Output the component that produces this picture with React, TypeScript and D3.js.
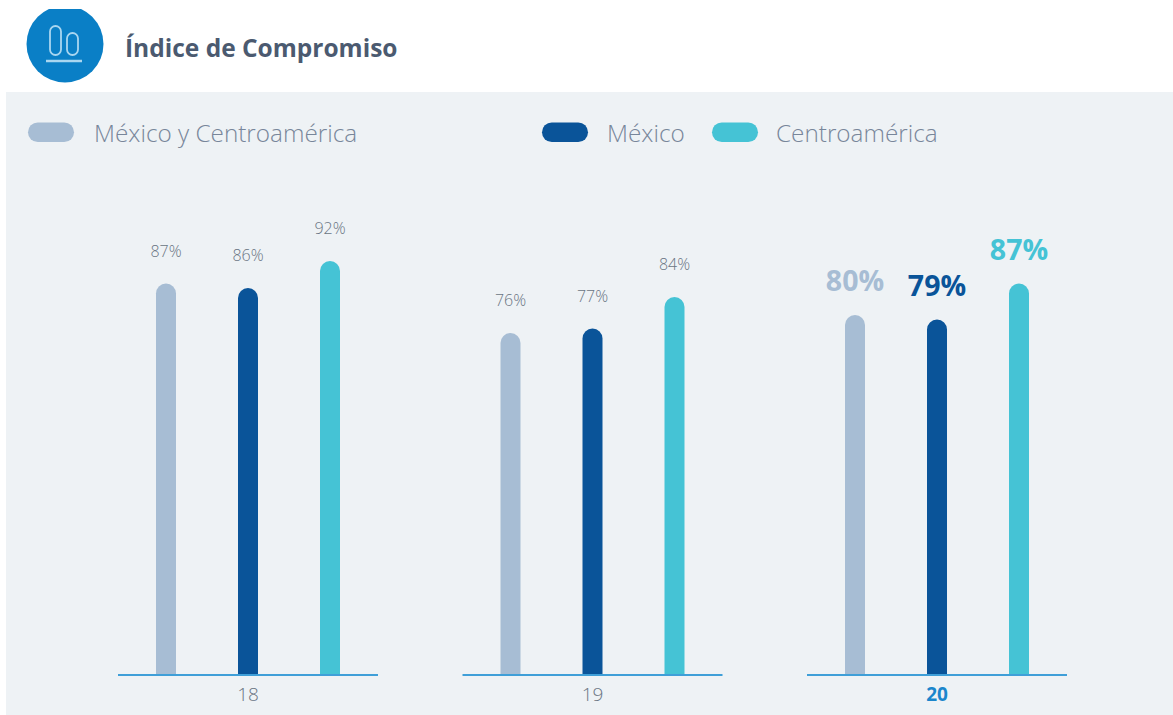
import React from "react";
import * as d3 from "d3";

const years = ["18", "19", "20"];
const seriesNames = ["México y Centroamérica", "México", "Centroamérica"];
const seriesColors = ["#a7bdd4", "#0a5499", "#45c3d5"];
const regionValues = [87, 76, 80];
const mexicoValues = [86, 77, 79];
const centralValues = [92, 84, 87];
const allValues = [regionValues, mexicoValues, centralValues];
const highlightYear = "20";

const WIDTH = 1173;
const HEIGHT = 715;
const BASELINE = 675;
const FONT = "'Open Sans', 'Noto Sans', sans-serif";

const yScale = d3.scaleLinear().domain([0, 100]).range([BASELINE, BASELINE - 450]);
const groupScale = d3.scaleBand<string>().domain(years).range([118, 1067]).paddingInner(0.2453);
const barScale = d3
  .scalePoint<string>()
  .domain(seriesNames)
  .range([48, 212]);

const BAR_WIDTH = 20;

// Rectangle with a rounded top and a square foot.
function barPath(cx: number, top: number, bottom: number, w: number) {
  const r = w / 2;
  const p = d3.path();
  p.moveTo(cx - r, bottom);
  p.lineTo(cx - r, top + r);
  p.arc(cx, top + r, r, Math.PI, 0);
  p.lineTo(cx + r, bottom);
  p.closePath();
  return p.toString();
}

const legendSwatchX = [28, 542, 712];
const legendTextX = [94, 607, 776];

export default function App() {
  return (
    <svg
      width={WIDTH}
      height={HEIGHT}
      viewBox={`0 0 ${WIDTH} ${HEIGHT}`}
      style={{ position: "absolute", left: 0, top: 0, display: "block", background: "#fff" }}
      fontFamily={FONT}
    >
      <defs>
        <clipPath id="header-clip">
          <rect x={0} y={9} width={WIDTH} height={90} />
        </clipPath>
      </defs>

      <rect x={6} y={92} width={WIDTH - 6} height={HEIGHT - 92} fill="#eef2f5" />

      {/* Header badge and title */}
      <g clipPath="url(#header-clip)">
        <circle cx={65} cy={44} r={38.5} fill="#0a7fc6" />
      </g>
      <g fill="none" stroke="#a9d6f0" strokeWidth={1.8}>
        <rect x={50} y={26} width={11} height={29} rx={5.5} />
        <rect x={67} y={33} width={11} height={22} rx={5.5} />
      </g>
      <line x1={46} x2={82} y1={61} y2={61} stroke="#a9d6f0" strokeWidth={2.6} />
      <text x={125} y={57} fontSize={24.5} fontWeight={700} fill="#4b5a70">
        Índice de Compromiso
      </text>

      {/* Legend */}
      {seriesNames.map((name, i) => (
        <g key={name}>
          <rect x={legendSwatchX[i]} y={122.5} width={46} height={19.5} rx={9.75} fill={seriesColors[i]} />
          <text x={legendTextX[i]} y={142} fontSize={24.3} fontWeight={300} fill="#78869a">
            {name}
          </text>
        </g>
      ))}

      {/* Year groups */}
      {years.map((year, yi) => {
        const x0 = groupScale(year)!;
        const bw = groupScale.bandwidth();
        const strong = year === highlightYear;
        return (
          <g key={year}>
            {seriesNames.map((name, si) => {
              const v = allValues[si][yi];
              const cx = x0 + barScale(name)!;
              const top = yScale(v);
              return (
                <g key={name}>
                  <path d={barPath(cx, top, BASELINE, BAR_WIDTH)} fill={seriesColors[si]} />
                  <text
                    x={cx}
                    y={top - (strong ? 24 : 27)}
                    textAnchor="middle"
                    fontSize={strong ? 28.5 : 16}
                    fontWeight={strong ? 700 : 300}
                    fill={strong ? seriesColors[si] : "#6a7583"}
                  >
                    {v}%
                  </text>
                </g>
              );
            })}
            <line x1={x0} x2={x0 + bw} y1={BASELINE} y2={BASELINE} stroke="#3f9fd8" strokeWidth={2} />
            <text
              x={x0 + bw / 2}
              y={701}
              textAnchor="middle"
              fontSize={19}
              fontWeight={strong ? 700 : 300}
              fill={strong ? "#1b86cc" : "#6a7583"}
            >
              {year}
            </text>
          </g>
        );
      })}
    </svg>
  );
}
